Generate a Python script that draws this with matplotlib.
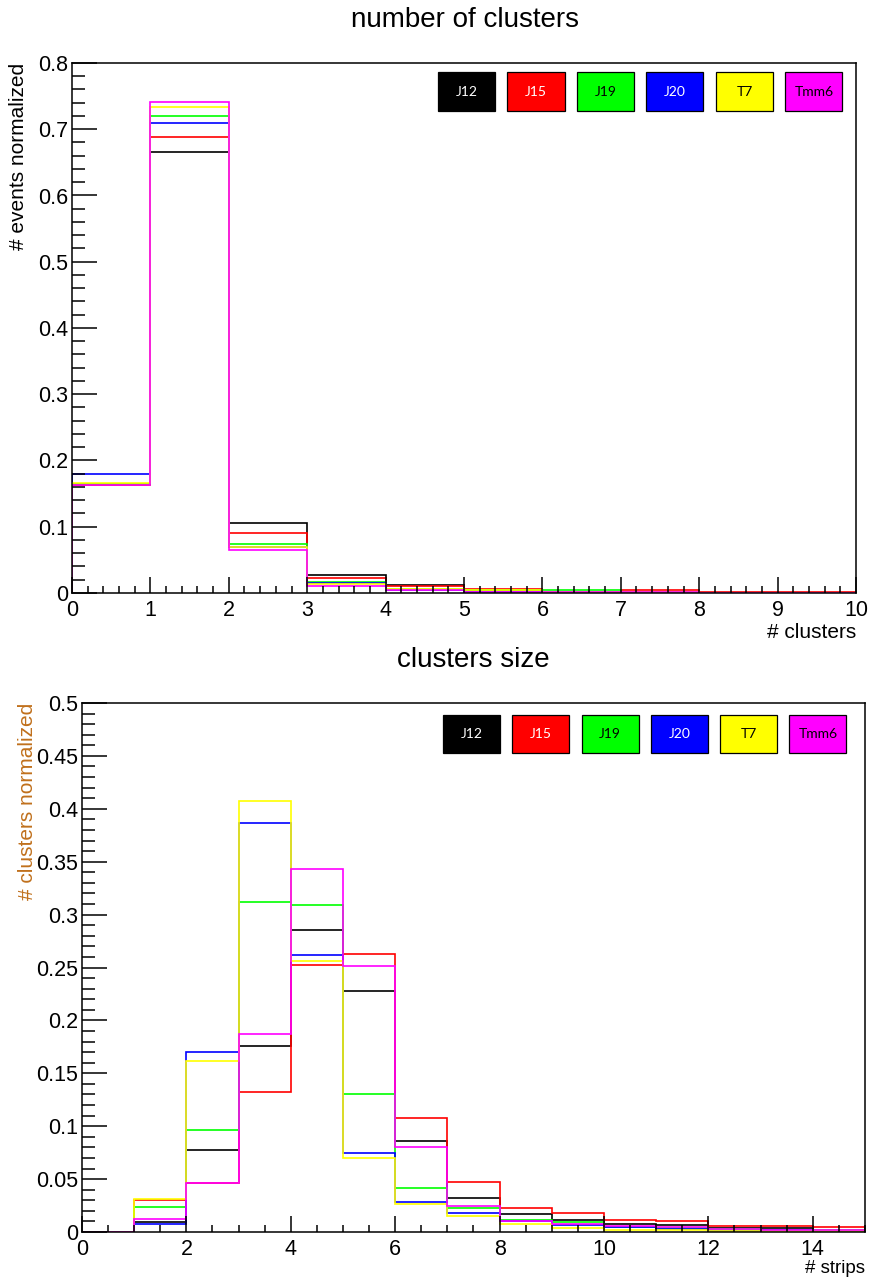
import numpy as np
import matplotlib.pyplot as plt
from matplotlib.patches import Rectangle
from matplotlib.ticker import MultipleLocator

plt.rcParams['font.family'] = ['Liberation Sans', 'DejaVu Sans']

samples = ['J12', 'J15', 'J19', 'J20', 'T7', 'Tmm6']
colors = ['#000000', '#ff0000', '#00ff00', '#0000ff', '#ffff00', '#ff00ff']
text_colors = ['#ffffff', '#ffffff', '#000000', '#ffffff', '#000000', '#000000']

# number of clusters per event, bins 0..10
n_clusters_edges = np.arange(0, 11)
n_clusters = {
    'J12':  [0.164, 0.665, 0.105, 0.0276, 0.0125, 0.004, 0.001, 0.001, 0.0003, 0.0002],
    'J15':  [0.163, 0.688, 0.0906, 0.0226, 0.010, 0.006, 0.002, 0.004, 0.0012, 0.001],
    'J19':  [0.165, 0.720, 0.074, 0.017, 0.006, 0.004, 0.004, 0.001, 0.0005, 0.0003],
    'J20':  [0.179, 0.710, 0.0694, 0.015, 0.005, 0.002, 0.001, 0.0008, 0.0003, 0.0002],
    'T7':   [0.1665, 0.733, 0.070, 0.0136, 0.0055, 0.005, 0.002, 0.001, 0.0003, 0.0002],
    'Tmm6': [0.163, 0.741, 0.065, 0.011, 0.004, 0.0015, 0.001, 0.0008, 0.0003, 0.0003],
}

# cluster size in strips, bins 0..15
cluster_size_edges = np.arange(0, 16)
cluster_size = {
    'J12':  [0, 0.009, 0.0776, 0.1757, 0.2858, 0.2277, 0.0858, 0.0325, 0.0167, 0.0117, 0.0073, 0.0068, 0.004, 0.0038, 0.001],
    'J15':  [0, 0.030, 0.0464, 0.132, 0.2524, 0.2628, 0.108, 0.0473, 0.0231, 0.018, 0.011, 0.0101, 0.006, 0.006, 0.0047],
    'J19':  [0, 0.0234, 0.0962, 0.312, 0.309, 0.1306, 0.042, 0.0224, 0.0117, 0.0095, 0.005, 0.004, 0.003, 0.002, 0.002],
    'J20':  [0, 0.008, 0.170, 0.387, 0.2618, 0.0748, 0.0284, 0.018, 0.0104, 0.007, 0.0045, 0.003, 0.001, 0.002, 0.001],
    'T7':   [0, 0.031, 0.162, 0.407, 0.256, 0.070, 0.0269, 0.0149, 0.008, 0.0038, 0.002, 0.0015, 0.001, 0.001, 0.0008],
    'Tmm6': [0, 0.0127, 0.0464, 0.187, 0.3435, 0.2514, 0.080, 0.0246, 0.0104, 0.0073, 0.0057, 0.0045, 0.003, 0.002, 0.0015],
}

W, H = 870, 1278
fig = plt.figure(figsize=(W / 100, H / 100), dpi=100)


def px_axes(x0, y0, x1, y1):
    return fig.add_axes([x0 / W, 1 - y1 / H, (x1 - x0) / W, (y1 - y0) / H])


def style(ax, xmaj, xmin, ymaj, ymin):
    ax.xaxis.set_major_locator(MultipleLocator(xmaj))
    ax.xaxis.set_minor_locator(MultipleLocator(xmin))
    ax.yaxis.set_major_locator(MultipleLocator(ymaj))
    ax.yaxis.set_minor_locator(MultipleLocator(ymin))
    ax.tick_params(which='both', direction='in', top=False, right=False,
                   width=1.1, labelsize=15.5)
    ax.tick_params(axis='y', which='major', length=18, pad=3)
    ax.tick_params(axis='y', which='minor', length=9.5)
    ax.tick_params(axis='x', which='major', length=11.5, pad=5)
    ax.tick_params(axis='x', which='minor', length=5)
    for s in ax.spines.values():
        s.set_linewidth(1.1)
    ax.yaxis.set_major_formatter(plt.FuncFormatter(lambda v, p: ('%g' % round(v, 3))))


def legend_boxes(x_start, y0, y1, width=57, pitch=69.5):
    for i, name in enumerate(samples):
        x0 = x_start + i * pitch
        fig.patches.append(Rectangle((x0 / W, 1 - y1 / H), width / W, (y1 - y0) / H,
                                     transform=fig.transFigure, facecolor=colors[i],
                                     edgecolor='black', linewidth=0.9))
        fig.text((x0 + width / 2) / W, 1 - (y0 + y1) / 2 / H, name,
                 color=text_colors[i], fontsize=10, family=['Lato', 'DejaVu Sans'],
                 ha='center', va='center')


# top: number of clusters
ax1 = px_axes(72, 63, 856, 593)
for name, c in zip(samples, colors):
    ax1.stairs(n_clusters[name], n_clusters_edges, color=c, linewidth=1.2)
ax1.set_xlim(0, 10)
ax1.set_ylim(0, 0.8)
style(ax1, 1, 0.2, 0.1, 0.02)
fig.text(465 / W, 1 - 20 / H, 'number of clusters', fontsize=20, ha='center', va='center')
fig.text(856 / W, 1 - 632 / H, '# clusters', fontsize=15, ha='right', va='center')
fig.text(19 / W, 1 - 63 / H, '# events normalized', fontsize=15, rotation=90,
         ha='center', va='top')
legend_boxes(438, 72, 111)

# bottom: cluster size
ax2 = px_axes(82, 703, 865, 1232)
for name, c in zip(samples, colors):
    ax2.stairs(cluster_size[name], cluster_size_edges, color=c, linewidth=1.2)
ax2.set_xlim(0, 15)
ax2.set_ylim(0, 0.5)
style(ax2, 2, 0.5, 0.05, 0.01)
fig.text(473 / W, 1 - 660 / H, 'clusters size', fontsize=20, ha='center', va='center')
fig.text(865 / W, 1 - 1277 / H, '# strips', fontsize=13.5, ha='right', va='bottom')
fig.text(28 / W, 1 - 703 / H, '# clusters normalized', fontsize=15, rotation=90,
         ha='center', va='top', color='#c0701c')
legend_boxes(443, 715, 753, pitch=69.3)

fig.savefig('out.png', dpi=100)
